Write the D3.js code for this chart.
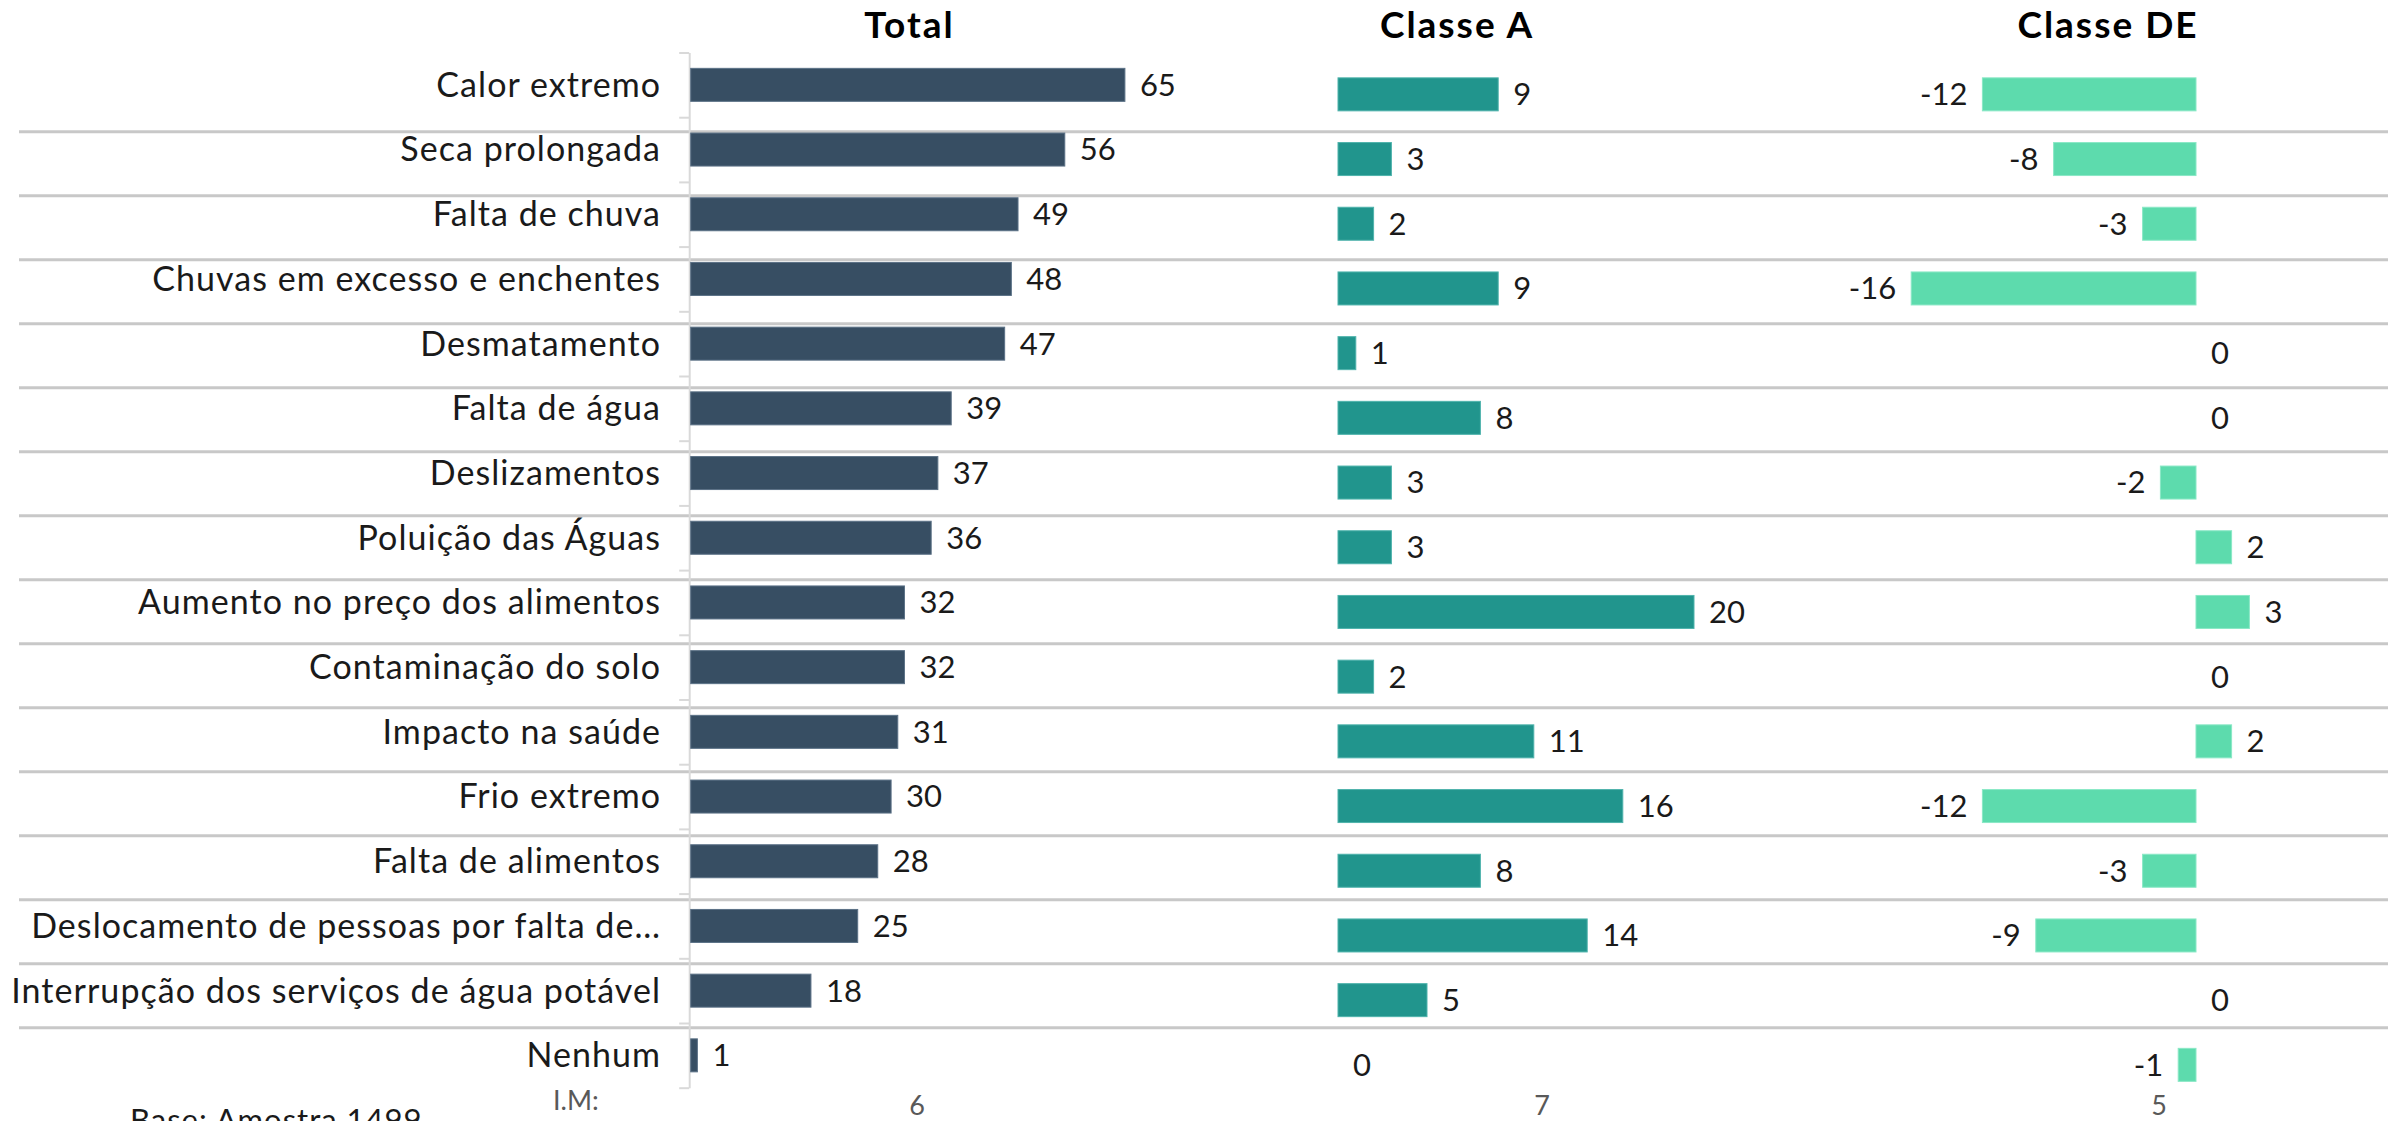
<!DOCTYPE html>
<html>
<head>
<meta charset="utf-8">
<script src="https://cdn.jsdelivr.net/npm/d3@7"></script>
<style>
  html, body { margin: 0; padding: 0; background: #ffffff; }
  svg { display: block; font-family: Lato, "Noto Sans", sans-serif; }
</style>
</head>
<body>
<svg id="chart" width="2402" height="1121"></svg>
<script>
const categories = [
  "Calor extremo",
  "Seca prolongada",
  "Falta de chuva",
  "Chuvas em excesso e enchentes",
  "Desmatamento",
  "Falta de água",
  "Deslizamentos",
  "Poluição das Águas",
  "Aumento no preço dos alimentos",
  "Contaminação do solo",
  "Impacto na saúde",
  "Frio extremo",
  "Falta de alimentos",
  "Deslocamento de pessoas por falta de…",
  "Interrupção dos serviços de água potável",
  "Nenhum"
];
const totalValues   = [65, 56, 49, 48, 47, 39, 37, 36, 32, 32, 31, 30, 28, 25, 18, 1];
const classeAValues = [9, 3, 2, 9, 1, 8, 3, 3, 20, 2, 11, 16, 8, 14, 5, 0];
const classeDEValues = [-12, -8, -3, -16, 0, 0, -2, 2, 3, 0, 2, -12, -3, -9, 0, -1];
const panelTitles = ["Total", "Classe A", "Classe DE"];
const imLabel = "I.M:";
const imValues = ["6", "7", "5"];
const baseNote = "Base: Amostra 1499";

const svg = d3.select("#chart");

const C = {
  total: "#374e63", totalStroke: "#5b7186",
  a: "#21958d", aStroke: "#4fb3ac",
  de: "#5ddbad", deStroke: "#8ae8c6",
  sep: "#c8c8c8", axis: "#d9d9d9", text: "#1a1a1a", gray: "#595959"
};

// Scales
const step = 64.7;
const yTotal = d3.scaleBand().domain(categories).range([52.5, 52.5 + step * 16])
  .paddingInner(0.49).paddingOuter(0.245);
const yClass = d3.scaleBand().domain(categories).range([62, 62 + step * 16])
  .paddingInner(0.49).paddingOuter(0.245);
const yRows = d3.scaleBand().domain(categories).range([67.7, 67.7 + 64 * 16]);
const yAxisLin = d3.scaleLinear().domain([0, 16]).range([52.5, 52.5 + step * 16]);

const xTotal = d3.scaleLinear().domain([0, 100]).range([690.7, 690.7 + 668]);
const xA = d3.scaleLinear().domain([0, 20]).range([1338, 1338 + 17.8 * 20]);
const xDE = d3.scaleLinear().domain([-16, 3]).range([2196 - 17.8 * 16, 2196 + 17.8 * 3]);

// Row separators
svg.append("g").selectAll("line").data(categories.slice(1)).join("line")
  .attr("x1", 19).attr("x2", 2388)
  .attr("y1", d => yRows(d)).attr("y2", d => yRows(d))
  .attr("stroke", C.sep).attr("stroke-width", 3);

// Total axis (category axis with ticks at band boundaries)
const axisG = svg.append("g").attr("transform", `translate(${xTotal(0) - 1.5},0)`)
  .call(d3.axisLeft(yAxisLin).tickValues(d3.range(0, 17)).tickFormat("").tickSize(10).tickSizeOuter(0));
axisG.select(".domain").attr("stroke", C.axis).attr("stroke-width", 2);
axisG.selectAll(".tick line").attr("stroke", C.axis).attr("stroke-width", 2);

// Category labels
svg.append("g").selectAll("text").data(categories).join("text")
  .attr("x", 661).attr("y", d => yTotal(d) + yTotal.bandwidth() / 2)
  .attr("dy", "0.35em").attr("text-anchor", "end")
  .attr("font-size", 34).attr("letter-spacing", 1.05).attr("fill", C.text).text(d => d);

// Total bars
const totData = categories.map((c, i) => ({ c, v: totalValues[i] }));
svg.append("g").selectAll("rect").data(totData).join("rect")
  .attr("x", xTotal(0)).attr("y", d => yTotal(d.c))
  .attr("width", d => xTotal(d.v) - xTotal(0)).attr("height", yTotal.bandwidth())
  .attr("fill", C.total).attr("stroke", C.totalStroke).attr("stroke-width", 1);
svg.append("g").selectAll("text").data(totData).join("text")
  .attr("x", d => xTotal(d.v) + 15).attr("y", d => yTotal(d.c) + yTotal.bandwidth() / 2)
  .attr("dy", "0.35em").attr("font-size", 31).attr("fill", C.text).text(d => d.v);

// Classe A bars
const aData = categories.map((c, i) => ({ c, v: classeAValues[i] }));
svg.append("g").selectAll("rect").data(aData.filter(d => d.v !== 0)).join("rect")
  .attr("x", xA(0)).attr("y", d => yClass(d.c))
  .attr("width", d => xA(d.v) - xA(0)).attr("height", yClass.bandwidth())
  .attr("fill", C.a).attr("stroke", C.aStroke).attr("stroke-width", 1);
svg.append("g").selectAll("text").data(aData).join("text")
  .attr("x", d => xA(d.v) + 15).attr("y", d => yClass(d.c) + yClass.bandwidth() / 2)
  .attr("dy", "0.35em").attr("font-size", 31).attr("fill", C.text).text(d => d.v);

// Classe DE bars
const deData = categories.map((c, i) => ({ c, v: classeDEValues[i] }));
svg.append("g").selectAll("rect").data(deData.filter(d => d.v !== 0)).join("rect")
  .attr("x", d => xDE(Math.min(0, d.v))).attr("y", d => yClass(d.c))
  .attr("width", d => Math.abs(xDE(d.v) - xDE(0))).attr("height", yClass.bandwidth())
  .attr("fill", C.de).attr("stroke", C.deStroke).attr("stroke-width", 1);
svg.append("g").selectAll("text").data(deData).join("text")
  .attr("x", d => d.v < 0 ? xDE(d.v) - 15 : xDE(d.v) + 15)
  .attr("y", d => yClass(d.c) + yClass.bandwidth() / 2)
  .attr("dy", "0.35em").attr("text-anchor", d => d.v < 0 ? "end" : "start")
  .attr("font-size", 31).attr("fill", C.text).text(d => d.v);

// Panel titles
const titleX = [909.5, 1457, 2108];
svg.append("g").selectAll("text").data(panelTitles).join("text")
  .attr("x", (d, i) => titleX[i]).attr("y", 38).attr("text-anchor", "middle")
  .attr("font-size", 37).attr("letter-spacing", 2).attr("font-weight", "bold")
  .attr("fill", "#000").text(d => d);

// Footer
svg.append("text").attr("x", 130).attr("y", 1131).attr("font-size", 31)
  .attr("letter-spacing", 1).attr("fill", C.text).text(baseNote);
svg.append("text").attr("x", 553).attr("y", 1110).attr("font-size", 27)
  .attr("fill", C.gray).text(imLabel);
const imX = [917, 1542, 2159];
svg.append("g").selectAll("text").data(imValues).join("text")
  .attr("x", (d, i) => imX[i]).attr("y", 1115).attr("text-anchor", "middle")
  .attr("font-size", 27).attr("fill", C.gray).text(d => d);
</script>
</body>
</html>
